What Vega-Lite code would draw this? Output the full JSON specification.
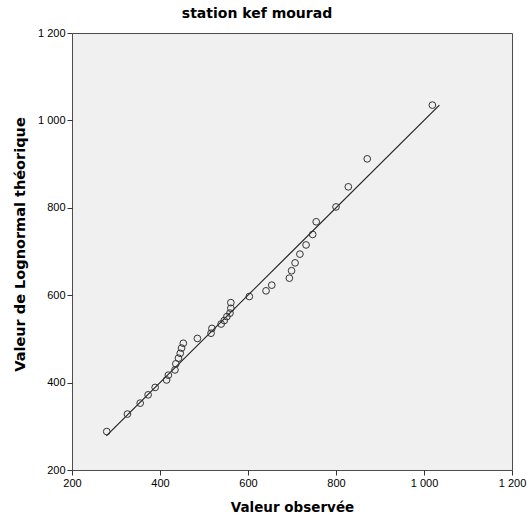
{
  "$schema": "https://vega.github.io/schema/vega-lite/v6.json",
  "width": 440,
  "height": 437,
  "autosize": {"type": "none"},
  "padding": {"left": 72, "top": 33, "right": 15, "bottom": 49},
  "title": {"text": "station kef mourad", "anchor": "middle", "frame": "group", "dx": -35, "offset": 6, "font": "DejaVu Sans", "fontSize": 14, "fontWeight": "bold", "color": "#000000"},
  "config": {
    "view": {"fill": "#f0f0f0", "stroke": "#4d4d4d", "strokeWidth": 1},
    "axis": {
      "grid": false,
      "domain": false,
      "tickColor": "#333333",
      "tickSize": 5,
      "labelFont": "Liberation Sans",
      "labelFontSize": 11,
      "labelColor": "#000000",
      "labelFlush": false,
      "labelOverlap": false,
      "titleFont": "DejaVu Sans",
      "titleFontSize": 13.5,
      "titleFontWeight": "bold",
      "titleColor": "#000000"
    }
  },
  "datasets": {
    "pts": [
      {"obs": 279, "theo": 288}, {"obs": 326, "theo": 328}, {"obs": 355, "theo": 353},
      {"obs": 373, "theo": 372}, {"obs": 389, "theo": 389}, {"obs": 415, "theo": 406},
      {"obs": 419, "theo": 417}, {"obs": 434, "theo": 429}, {"obs": 436, "theo": 443},
      {"obs": 442, "theo": 456}, {"obs": 446, "theo": 467}, {"obs": 449, "theo": 479},
      {"obs": 453, "theo": 490}, {"obs": 485, "theo": 501}, {"obs": 516, "theo": 513},
      {"obs": 518, "theo": 524}, {"obs": 539, "theo": 534}, {"obs": 546, "theo": 542},
      {"obs": 552, "theo": 551}, {"obs": 559, "theo": 559}, {"obs": 561, "theo": 570},
      {"obs": 561, "theo": 583}, {"obs": 603, "theo": 597}, {"obs": 641, "theo": 610},
      {"obs": 654, "theo": 623}, {"obs": 694, "theo": 639}, {"obs": 699, "theo": 656},
      {"obs": 707, "theo": 674}, {"obs": 718, "theo": 694}, {"obs": 732, "theo": 715},
      {"obs": 747, "theo": 739}, {"obs": 755, "theo": 768}, {"obs": 800, "theo": 802},
      {"obs": 828, "theo": 848}, {"obs": 871, "theo": 912}, {"obs": 1019, "theo": 1035}
    ],
    "ref": [{"obs": 278, "theo": 278}, {"obs": 1035, "theo": 1035}]
  },
  "encoding": {
    "x": {"field": "obs", "type": "quantitative", "scale": {"domain": [200, 1200], "nice": false, "zero": false},
      "axis": {"values": [200, 400, 600, 800, 1000, 1200], "title": "Valeur observée", "labelExpr": "replace(format(datum.value, ','), ',', ' ')", "labelPadding": 2, "titlePadding": 12}},
    "y": {"field": "theo", "type": "quantitative", "scale": {"domain": [200, 1200], "nice": false, "zero": false},
      "axis": {"values": [200, 400, 600, 800, 1000, 1200], "title": "Valeur de Lognormal théorique", "titleFontSize": 14.5, "labelExpr": "replace(format(datum.value, ','), ',', ' ')", "labelPadding": 2, "titleX": -45, "titleY": 211}}
  },
  "layer": [
    {"data": {"name": "ref"}, "mark": {"type": "line", "color": "#222222", "strokeWidth": 1.2}},
    {"data": {"name": "pts"}, "mark": {"type": "point", "shape": "circle", "filled": false, "stroke": "#333333", "strokeWidth": 1, "size": 45, "opacity": 1}}
  ]
}
